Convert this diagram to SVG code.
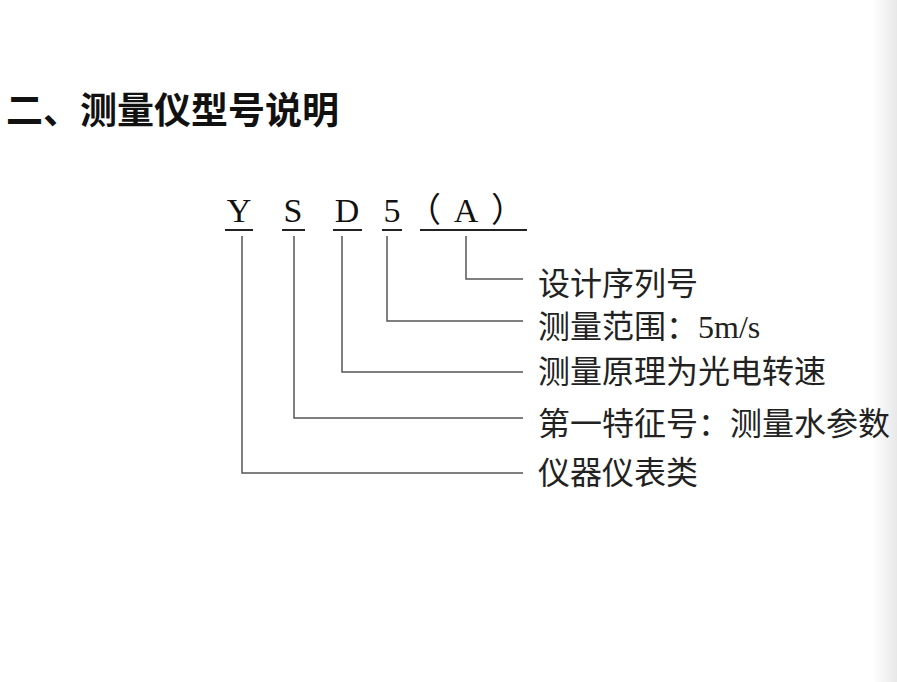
<svg xmlns="http://www.w3.org/2000/svg" width="897" height="682" viewBox="0 0 897 682">
<defs>
<linearGradient id="edge" x1="0" y1="0" x2="1" y2="0">
<stop offset="0" stop-color="#ffffff"/>
<stop offset="1" stop-color="#e8e8e8"/>
</linearGradient>
<style>
.title{font-family:"Noto Sans CJK SC","Liberation Sans",sans-serif;font-size:37px;font-weight:bold;fill:#111}
.code{font-family:"Liberation Serif","Noto Sans CJK SC",serif;font-size:34px;fill:#111;text-anchor:middle}
.lbl{font-family:"Liberation Serif","Noto Sans CJK SC",serif;font-size:32px;fill:#222}
.ul{stroke:#222;stroke-width:2;fill:none}
.conn{stroke:#555;stroke-width:1.5;fill:none}
</style>
</defs>
<rect width="897" height="682" fill="#ffffff"/>
<rect x="872" y="0" width="25" height="682" fill="url(#edge)"/>
<text class="title" x="6" y="124">二、测量仪型号说明</text>
<g id="code">
<g id="Y"><text class="code" x="239" y="222">Y</text><line class="ul" x1="225" y1="230" x2="253" y2="230"/></g>
<g id="S"><text class="code" x="293" y="222">S</text><line class="ul" x1="282" y1="230" x2="305" y2="230"/></g>
<g id="D"><text class="code" x="347" y="222">D</text><line class="ul" x1="333" y1="230" x2="362" y2="230"/></g>
<g id="n5"><text class="code" x="392" y="222">5</text><line class="ul" x1="382" y1="230" x2="402" y2="230"/></g>
<g id="A"><text class="code" x="466" y="222"><tspan x="424">（</tspan><tspan x="466">A</tspan><tspan x="508">）</tspan></text><line class="ul" x1="420" y1="230" x2="527" y2="230"/></g>
</g>
<g id="connectors">
<polyline class="conn" points="466,236 466,279 523,279"/>
<polyline class="conn" points="387,236 387,321 523,321"/>
<polyline class="conn" points="342,236 342,372 523,372"/>
<polyline class="conn" points="294,236 294,418 523,418"/>
<polyline class="conn" points="242,236 242,473 523,473"/>
</g>
<g id="label1"><text class="lbl" x="538" y="295">设计序列号</text></g>
<g id="label2"><text class="lbl" x="538" y="338">测量范围：5m/s</text></g>
<g id="label3"><text class="lbl" x="538" y="383">测量原理为光电转速</text></g>
<g id="label4"><text class="lbl" x="538" y="435">第一特征号：测量水参数</text></g>
<g id="label5"><text class="lbl" x="538" y="484">仪器仪表类</text></g>
</svg>
